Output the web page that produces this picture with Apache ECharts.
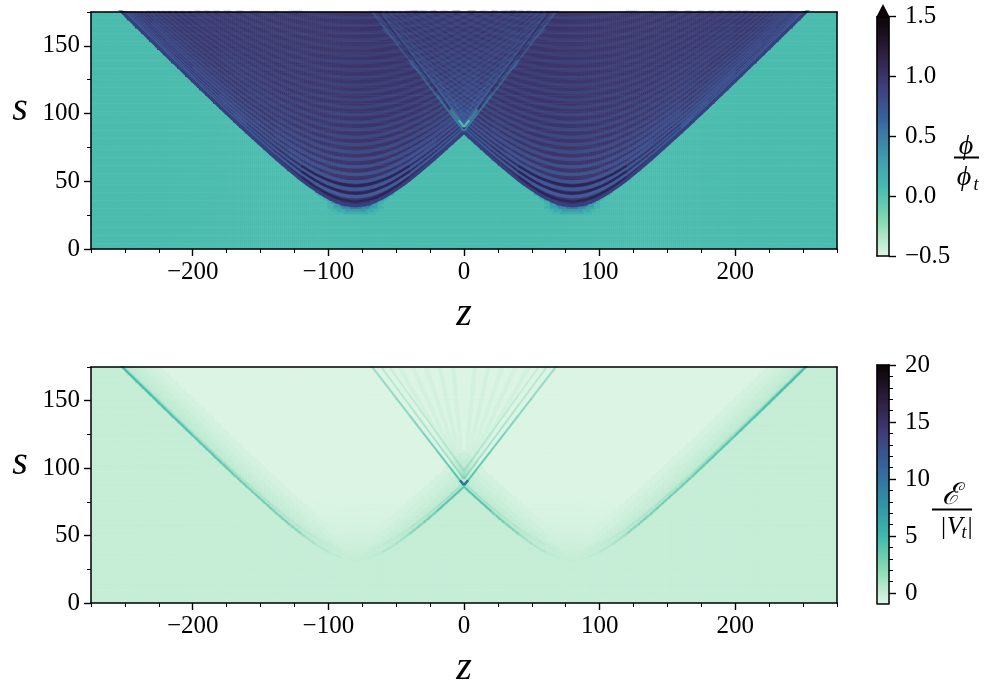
<!DOCTYPE html>
<html><head><meta charset="utf-8">
<style>html,body{margin:0;padding:0;background:#fff}#c{width:984px;height:688px}</style>
<script src="https://cdn.jsdelivr.net/npm/echarts@6/dist/echarts.min.js"></script>
</head><body><div id="c"></div>
<script>
// ---- tick labels / ticks
const xMajor=[-200,-100,0,100,200];
const xMinor=[-275,-250,-225,-175,-150,-125,-75,-50,-25,25,50,75,125,150,175,225,250,275];
const yMajor=[0,50,100,150];
const yMinor=[25,75,125,175];
const phiTicks=[-0.5,0,0.5,1,1.5];
const eTicks=[0,5,10,15,20];
const eMinor=[1,2,3,4,6,7,8,9,11,12,13,14,16,17,18,19];
const MAKO=['#def5e5','#8bdab2','#40b7ad','#348fa7','#37659e','#413d7b','#2e1e3c','#0b0405'];

// ---- half-width of each wake (|z-80|) per row, rows at s=1,3,5,...,175
const wakeHalfWidth=[0,0,0,0,0,0,0,0,0,0,0,0,0,0,0,0,
8,14.2,18.6,22.3,25.6,28.7,31.6,34.4,37.1,39.7,42.2,44.7,47.2,49.6,51.9,54.3,56.6,58.9,61.1,63.4,65.6,67.8,70,72.2,74.4,76.6,78.7,80.9,83,85.2,87.3,89.4,91.6,93.7,95.8,97.9,100,102.1,104.2,106.3,108.4,110.5,112.5,114.6,116.7,118.8,120.8,122.9,125,127,129.1,131.2,133.2,135.3,137.3,139.4,141.4,143.5,145.5,147.6,149.6,151.7,153.7,155.7,157.8,159.8,161.9,163.9,165.9,168,170,172];
const phiInside=1.0, phiOutside=0.03;
// glow of phi around the wake vertex, row -> [half width, value]
const phiGlow={13:[[9,.14],[15,.08]],14:[[7,.28],[13,.17],[18,.08]],15:[[5,.55],[10,.4],[16,.22],[21,.1]],16:[[12,.55],[16,.25],[20,.08]],17:[[17,.4],[21,.12]],18:[[21,.3],[24,.1]],19:[[24,.3],[26,.08]],20:[[27.6,.25]]};
// energy field: interior level per row starting at s=33, then fringe next to the wake front
const eInterior=[0,-.05,-.1,-.15,-.2,-.25,-.3,-.35,-.4,-.45,-.5,-.52,-.55,-.58,-.6,-.62,-.65,-.67,-.7,-.71,-.72,-.74,-.75,-.76,-.78];
const eInteriorTop=-.8, eOutside=0;
const fringeDist=[1.5,3,5,8,12,17,23,30];
const fringeVal=[1.2,.7,.4,.2,.05,-.1,-.3,-.5];
const eFringeCap=[0,0,.02,.05,.08,.12,.18,.25,.35,.5,.7,.9];

// ---- wave crests: s at |z-80| offsets
const crestOffset=[0,10,20,30,40,50,60,80,90,100,120,140,150,180];
const wakeFrontS=[32,33.5,37.7,43.9,51.2,59.4,68,86.2,95.5,105,124.2,143.6,153.4,182.8];
const stripeS=[
[38.5,39.8,43.4,48.8,55.5,63.1,71.3,88.8,97.9,107.2,126,145.2,154.9,184],
[44,45.1,48.3,53.3,59.5,66.6,74.4,91.3,100.2,109.3,127.8,146.8,156.3,185.3],
[49.5,50.5,53.4,57.9,63.6,70.4,77.8,94.1,102.7,111.6,129.8,148.5,158,186.7],
[55,55.9,58.5,62.6,68,74.3,81.4,97.1,105.5,114.1,132,150.4,159.8,188.2],
[60.5,61.3,63.7,67.5,72.6,78.5,85.2,100.3,108.4,116.9,134.4,152.5,161.7,189.9],
[66,66.8,69,72.5,77.2,82.8,89.2,103.7,111.6,119.8,137,154.8,163.9,191.7],
[71.5,72.2,74.2,77.5,81.9,87.3,93.3,107.3,114.9,122.9,139.7,157.2,166.2,193.7],
[77,77.6,79.6,82.6,86.8,91.8,97.6,111,118.4,126.2,142.6,159.8,168.6,195.8],
[82.5,83.1,84.9,87.8,91.7,96.5,102,114.9,122.1,129.6,145.6,162.5,171.2,198],
[88,88.6,90.2,93,96.7,101.2,106.5,118.9,125.9,133.2,148.8,165.4,173.9,200.4],
[93.5,94,95.6,98.2,101.7,106,111.1,123.1,129.8,136.9,152.1,168.3,176.8,202.8],
[99,99.5,101,103.4,106.8,110.9,115.8,127.3,133.8,140.7,155.6,171.5,179.7,205.4],
[104.5,105,106.4,108.7,111.9,115.7,120.5,131.6,137.9,144.6,159.1,174.7,182.8,208.1],
[110,110.5,111.8,114,117,120.8,125.3,136,142.1,148.7,162.8,178,186,210.9],
[115.5,115.9,117.2,119.3,122.2,125.8,130.2,140.5,146.4,152.8,166.5,181.5],
[121,121.4,122.6,124.7,127.4,130.9,135.1,145.1,150.8,157,170.4,185],
[126.5,126.9,128.1,130,132.7,136,140,149.7,155.2,161.3,174.4,188.7],
[132,132.4,133.5,135.4,137.9,141.2,145,154.3,159.8,165.6,178.4],
[137.5,137.9,139,140.7,143.2,146.3,150,159.1,164.3,170,182.5],
[143,143.3,144.4,146.1,148.5,151.5,155.1,163.9,169,174.5,186.7],
[148.5,148.8,149.8,151.5,153.8,156.7,160.2,168.7,173.6,179],
[154,154.3,155.3,156.9,159.1,161.9,165.2,173.3,178.4],
[159.5,159.8,160.7,162.3,164.4,167.1,170.4,178.5],
[165,165.3,166.2,167.7,169.8,172.4,175.5],
[170.5,170.8,171.7,173.1,175.1,177.7]];
const stripeLeftReach=[80,90,90,100,100,120,120,120,140,140,150,150,150,150,150,150,150,150,150,150,150,150,150,150,150];
const stripeOpacity=[.95,.85,.78,.72,.66,.6,.55,.5,.46,.43,.4,.38,.36,.34,.32,.3,.29,.28,.27,.26,.25,.25,.24,.24,.24];
const darkBandS=[[35,36.4,40.3,46.1,53.2,61,69.5,87.3],[41.2,42.4,45.8,51,57.4,65,72.8,90],[46.7,47.8,50.8,55.4,61.5,68.5,76,92.7]];
const darkBandTailOp=[.45,.35,.22];

// ---- reflected fronts above the crossing point
const frontZ=[0,10,20,30,40,50,60,70];
const frontA=[87,100,113,126,139,152,165,178];
const frontD=[89,103,117,130.5,144,157.5,171,184];
const frontB=[92,105.6,119.2,132.8,146.4,160,173.6,187];
const frontC=[98,112,126,140,154,168,182];
const frontTopOp=[.95,.8,.6,.5,.42,.38,.35];
const frontLowOp=[.9,.8,.7,.62,.55,.5,.45];
const tipZ=[0,4,10];
const tipS=[90,95,103];
const tipOp=[.9,.45];
const eTipZ=[0,3];
const eTipS=[87.5,91];
const fanBaseS=92, fanTopS=175;
const fanTopZ=[48,38,28,18,8];
// opacity of the energy front per crest interval
const eFrontOuterOp=[.02,.05,.12,.2,.35,.45,.55,.6,.65,.7,.8,.85,.9];
const eFrontInnerOp=[.02,.05,.14,.22,.38,.5,.75];

const COLS=372, ROWS=88;
const zAt=i=>-275+(i+.5)*550/COLS;
function phiCell(a,k){
  const x=Math.abs(a-80), d=wakeHalfWidth[k];
  if(x<d) return phiInside;
  const g=phiGlow[k];
  if(g) for(const [h,v] of g) if(x<h) return v;
  return phiOutside;
}
function eCell(a,k){
  const x=Math.abs(a-80), d=wakeHalfWidth[k];
  if(x>=d) return eOutside;
  const c=k-16<eInterior.length?eInterior[k-16]:eInteriorTop;
  const dist=d-x;
  let f=-9;
  for(let j=0;j<fringeDist.length;j++){ if(dist<fringeDist[j]){f=fringeVal[j];break;} }
  if(k-16<eFringeCap.length) f=Math.min(f,eFringeCap[k-16]);
  return Math.max(f,c);
}
const phiData=[], eData=[];
for(let k=0;k<ROWS;k++)for(let i=0;i<COLS;i++){
  const a=Math.abs(zAt(i));
  phiData.push([i,k,phiCell(a,k)]);
  eData.push([i,k,eCell(a,k)]);
}
const cbRows=238, cbPhi=[], cbE=[];
for(let k=0;k<cbRows;k++){
  cbPhi.push([0,k,-0.5+(k+.5)*2/cbRows]);
  cbE.push([0,k,-0.9+(k+.5)*20.9/cbRows]);
}
const seq=n=>Array.from({length:n},(_,i)=>i);
const FONT='"Liberation Serif"';
const fmtMinus=v=>String(v).replace('-','\u2212');

const xAxes=[], yAxes=[];
const line={lineStyle:{color:'#000',width:1.5}};
const noLine={show:false,onZero:false};
function addX(o){xAxes.push(o);return xAxes.length-1;}
function addY(o){yAxes.push(o);return yAxes.length-1;}
function plotAxes(g,catRows,catCols){
  const cx=addX({gridIndex:g,type:'category',data:seq(catCols),show:false});
  const cy=addY({gridIndex:g,type:'category',data:seq(catRows),show:false});
  const base={gridIndex:g,type:'value',splitLine:{show:false}};
  const vx=addX({...base,min:-275,max:275,position:'bottom',axisLine:{show:true,...line,onZero:false},
    axisTick:{show:true,length:7,lineStyle:{color:'#000',width:1.4},customValues:xMajor},
    axisLabel:{show:true,customValues:xMajor,formatter:fmtMinus,fontFamily:FONT,fontSize:25,color:'#000',margin:11},
    name:'z',nameLocation:'middle',nameGap:45,nameTextStyle:{fontFamily:FONT,fontStyle:'italic',fontSize:40,color:'#000'},z:5});
  addX({...base,min:-275,max:275,position:'bottom',axisLine:noLine,axisLabel:{show:false},
    axisTick:{show:true,length:4,lineStyle:{color:'#000',width:1},customValues:xMinor},z:5});
  addX({...base,min:-275,max:275,position:'top',axisLine:{show:true,...line,onZero:false},axisTick:{show:false},axisLabel:{show:false},z:5});
  const vy=addY({...base,min:0,max:175,position:'left',axisLine:{show:true,...line,onZero:false},
    axisTick:{show:true,length:7,lineStyle:{color:'#000',width:1.4},customValues:yMajor},
    axisLabel:{show:true,customValues:yMajor,fontFamily:FONT,fontSize:25,color:'#000',margin:11},z:5});
  addY({...base,min:0,max:175,position:'left',axisLine:noLine,axisLabel:{show:false},
    axisTick:{show:true,length:4,lineStyle:{color:'#000',width:1},customValues:yMinor},z:5});
  addY({...base,min:0,max:175,position:'right',axisLine:{show:true,...line,onZero:false},axisTick:{show:false},axisLabel:{show:false},z:5});
  return {cx,cy,vx,vy};
}
function cbAxes(g,min,max,major,minor,fmt){
  const cx=addX({gridIndex:g,type:'category',data:[0],show:false});
  const cy=addY({gridIndex:g,type:'category',data:seq(cbRows),show:false});
  const base={gridIndex:g,type:'value',min,max,splitLine:{show:false}};
  addX({gridIndex:g,type:'value',min:0,max:1,position:'top',axisLine:{show:true,...line,onZero:false},axisTick:{show:false},axisLabel:{show:false},splitLine:{show:false},z:5});
  addX({gridIndex:g,type:'value',min:0,max:1,position:'bottom',axisLine:{show:true,...line,onZero:false},axisTick:{show:false},axisLabel:{show:false},splitLine:{show:false},z:5});
  addY({...base,position:'left',axisLine:{show:true,...line,onZero:false},axisTick:{show:false},axisLabel:{show:false},z:5});
  addY({...base,position:'right',axisLine:{show:true,...line,onZero:false},
    axisTick:{show:true,length:7,lineStyle:{color:'#000',width:1.4},customValues:major},
    axisLabel:{show:true,customValues:major,formatter:fmt,fontFamily:FONT,fontSize:25,color:'#000',margin:16},z:5});
  if(minor) addY({...base,position:'right',axisLine:noLine,axisLabel:{show:false},
    axisTick:{show:true,length:4,lineStyle:{color:'#000',width:1},customValues:minor},z:5});
  return {cx,cy};
}
const grids=[
 {left:91,top:12,width:746,height:237,outerBoundsMode:'none'},
 {left:91,top:367,width:746,height:236,outerBoundsMode:'none'},
 {left:877,top:16.7,width:12,height:239.3,outerBoundsMode:'none'},
 {left:877,top:365,width:12,height:238.3,outerBoundsMode:'none'}];
const A=plotAxes(0,ROWS,COLS), B=plotAxes(1,ROWS,COLS);
const CA=cbAxes(2,-0.5,1.5,phiTicks,null,v=>fmtMinus(v.toFixed(1)));
const CB=cbAxes(3,-0.9,20,eTicks,eMinor,v=>String(v));

const heat=(ax,data)=>({type:'heatmap',xAxisIndex:ax.cx,yAxisIndex:ax.cy,data,silent:true,progressive:0,animation:false,z:1,emphasis:{disabled:true}});
const series=[heat(A,phiData),heat(B,eData),heat(CA,cbPhi),heat(CB,cbE)];
function ln(ax,pts,color,width,op,z){
  series.push({type:'line',xAxisIndex:ax.vx,yAxisIndex:ax.vy,data:pts,showSymbol:false,symbol:'none',smooth:pts.length>2?0.15:false,silent:true,animation:false,clip:true,z:z||2,
    lineStyle:{color,width,opacity:op}});
}
function crest(ss,leftReach,rightReach){ // points of the crest of the right wake, from left to right
  const pts=[];
  for(let i=ss.length-1;i>=0;i--) if(crestOffset[i]<=leftReach&&i>0) pts.push([80-crestOffset[i],ss[i]]);
  for(let i=0;i<ss.length;i++) if(crestOffset[i]<=rightReach) pts.push([80+crestOffset[i],ss[i]]);
  return pts;
}
const both=(pts,f)=>{f(pts);f(pts.map(p=>[-p[0],p[1]]).reverse());};
// stripes get narrower where they crowd towards the front
const crestTierWidth=[3.4,2.4,1.4];
const tierOf=(tau,s)=>{const r=tau/s;return r>.7?0:(r>.42?1:2);};
function tiers(pts,tau){
  const out=[];let cur=null,t=-1;
  for(let i=0;i<pts.length;i++){
    const tt=tierOf(tau,pts[i][1]);
    if(tt!==t){ if(cur){cur.pts.push(pts[i]);out.push(cur);} cur={t:tt,pts:[pts[i]]}; t=tt; }
    else cur.pts.push(pts[i]);
  }
  if(cur&&cur.pts.length>1) out.push(cur);
  return out;
}
const seg=(arr,xs)=>{const o=[];for(let i=0;i+1<arr.length;i++)o.push([[xs[i],arr[i]],[xs[i+1],arr[i+1]]]);return o;};
const fr=arr=>arr.map((s,i)=>[frontZ[i],s]);
// ---- top panel
stripeS.forEach((ss,i)=>both(crest(ss,stripeLeftReach[i],999),p=>
  tiers(p,ss[0]).forEach(g=>ln(A,g.pts,'#3f5e9c',crestTierWidth[g.t],stripeOpacity[i]))));
darkBandS.forEach(ss=>{
  both(crest(ss,40,40),p=>ln(A,p,'#2a2152',2.4,.85));
  [1,-1].forEach(sd=>seg(ss.slice(4),crestOffset.slice(4,8)).forEach((p,i)=>both(p.map(q=>[80+sd*q[0],q[1]]),q=>ln(A,q,'#2a2152',2,darkBandTailOp[i]))));
});
both(crest(wakeFrontS,80,999),p=>ln(A,p,'#37407f',3.2,1,3));
seg(frontC,frontZ).forEach((p,i)=>both(p,q=>ln(A,q,'#3f6a9f',1.6,frontTopOp[i]*.45,3)));
seg(frontB,frontZ).forEach((p,i)=>both(p,q=>ln(A,q,'#3f6a9f',1.8,frontTopOp[i]*.8,3)));
both(fr(frontD),p=>ln(A,p,'#2a2152',1.6,.45,3));
seg(frontA,frontZ).forEach((p,i)=>both(p,q=>ln(A,q,'#3a80a5',1.8,frontTopOp[i],3)));
for(let i=0;i+1<tipZ.length;i++) both([[tipZ[i],tipS[i]],[tipZ[i+1],tipS[i+1]]],p=>ln(A,p,'#55c4ae',2.4,tipOp[i],4));
// ---- bottom panel
const segs=(ss,side)=>seg(ss,crestOffset).map(p=>p.map(q=>[80+side*q[0],q[1]]));
segs(wakeFrontS,1).forEach((p,i)=>both(p,q=>ln(B,q,'#3fbbac',2.2,eFrontOuterOp[i],3)));
segs(wakeFrontS,-1).slice(0,7).forEach((p,i)=>both(p,q=>ln(B,q,'#3fbbac',2.2,eFrontInnerOp[i],3)));
segs(stripeS[0],1).forEach((p,i)=>both(p,q=>ln(B,q,'#58c6ae',1.6,eFrontOuterOp[i]*.35,2)));
segs(stripeS[0],-1).slice(0,7).forEach((p,i)=>both(p,q=>ln(B,q,'#58c6ae',1.6,eFrontInnerOp[i]*.35,2)));
fanTopZ.forEach(z=>both([[0,fanBaseS],[z,fanTopS]],p=>ln(B,p,'#7fd5b5',4,.09)));
seg(frontC,frontZ).forEach((p,i)=>both(p,q=>ln(B,q,'#6fd0b2',1.8,frontLowOp[i]*.4,3)));
seg(frontB,frontZ).forEach((p,i)=>both(p,q=>ln(B,q,'#6fd0b2',1.8,frontLowOp[i]*.65,3)));
seg(frontA,frontZ).forEach((p,i)=>both(p,q=>ln(B,q,'#4cc0ad',2,frontLowOp[i],3)));
both(eTipZ.map((z,i)=>[z,eTipS[i]]),p=>ln(B,p,'#2f6fa0',2.6,.95,4));

const chart=echarts.init(document.getElementById('c'),null,{renderer:'canvas'});
const txt=(x,y,text,size,style,family)=>({type:'text',x,y,z:20,style:{text,fill:'#000',font:`${style||'italic'} ${size}px ${family||FONT}`,align:'center',verticalAlign:'middle'}});
const rule=(x1,x2,y)=>({type:'line',z:20,shape:{x1,y1:y,x2,y2:y},style:{stroke:'#000',lineWidth:2}});
chart.setOption({
 animation:false,backgroundColor:'#fff',
 grid:grids,xAxis:xAxes,yAxis:yAxes,series,
 visualMap:[
  {type:'continuous',show:false,min:-0.5,max:1.5,dimension:2,seriesIndex:[0,2],inRange:{color:MAKO}},
  {type:'continuous',show:false,min:-0.9,max:20,dimension:2,seriesIndex:[1,3],inRange:{color:MAKO}}],
 graphic:[
  {type:'polygon',z:20,shape:{points:[[876.3,17],[883,4],[889.7,17]]},style:{fill:'#0b0405'}},
  txt(20,109,'s',40),txt(20,463,'s',40),
  txt(966,147,'\u03D5',28),rule(954,979,157.5),txt(964,178,'\u03D5',28),txt(976,185,'t',18),
  txt(951,496,'\u2130',30,'italic','"DejaVu Serif"'),rule(932,972,509.5),txt(951,527,'|V',26,'italic'),txt(964,533,'t',18),txt(970,527,'|',26,'normal')
 ]
});
</script></body></html>
